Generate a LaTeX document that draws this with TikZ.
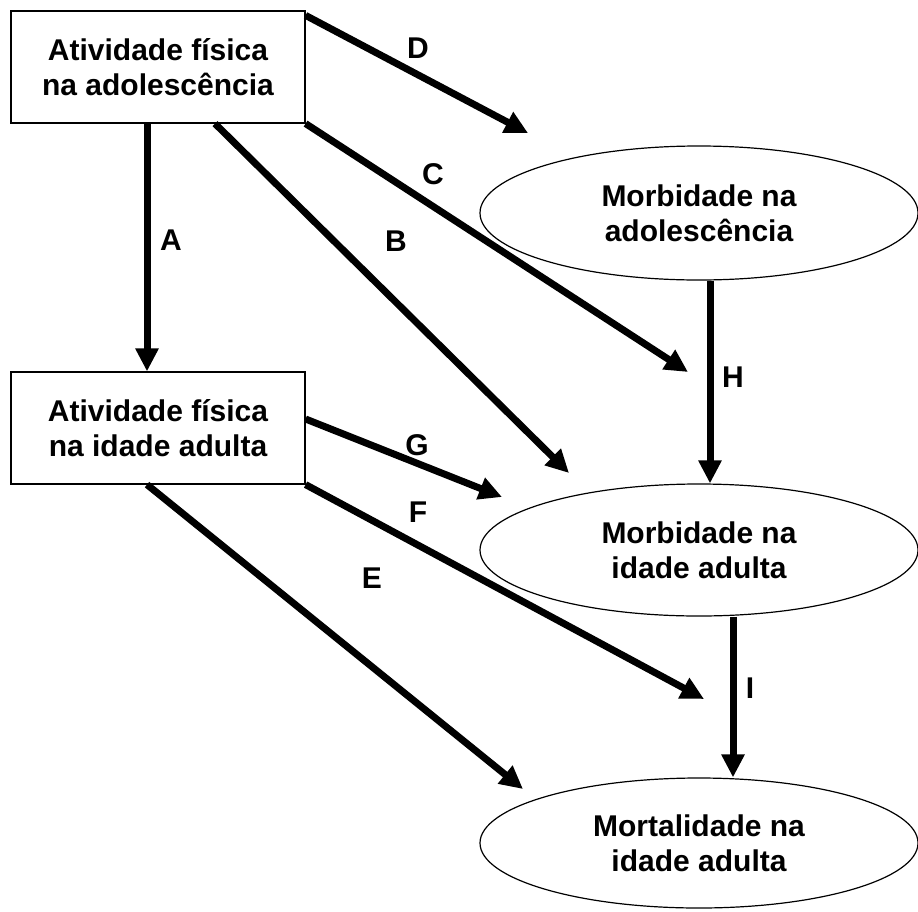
\documentclass[tikz,border=0pt]{standalone}
\usepackage{fontspec}
\setmainfont{Liberation Sans}
\usetikzlibrary{arrows.meta,shapes.geometric}

\begin{document}
\begin{tikzpicture}[x=1pt, y=-1pt,
		font=\fontsize{30}{35}\selectfont\bfseries,
		caixa/.style={draw, line width=1.2pt, minimum width=294pt, minimum height=112pt, align=center, inner sep=0pt},
		elipse/.style={draw, ellipse, line width=1.2pt, minimum width=438pt, minimum height=132pt, align=center, inner sep=0pt},
		seta/.style={line width=7pt, -{Triangle[length=23pt, width=22pt]}}]
		\useasboundingbox (0,0) rectangle (918,911);
	
		\node[caixa] (adol) at (158,67) {Atividade física\\na adolescência};
		\node[caixa] (adul) at (158,428) {Atividade física\\na idade adulta};
		\node[elipse, minimum height=134pt] (morbA) at (699,213) {Morbidade na\\adolescência};
		\node[elipse] (morbB) at (699,550) {Morbidade na\\idade adulta};
		\node[elipse, minimum height=130pt] (mort) at (699,843) {Mortalidade na\\idade adulta};
	
		% pontas soltas das setas
		\coordinate (fimB) at (569,473);
		\coordinate (fimC) at (688,372);
		\coordinate (fimD) at (528,133);
		\coordinate (fimG) at (502,497);
		\coordinate (fimF) at (704,699);
		\coordinate (fimE) at (523,789);
	
		\draw[seta] ([xshift=-11pt]adol.south) -- ([xshift=-11pt]adul.north);
		\draw[seta] ([xshift=57pt]adol.south) -- (fimB);
		\draw[seta] (adol.south east) -- (fimC);
		\draw[seta] ([yshift=-5pt]adol.north east) -- (fimD);
		\draw[seta] ([xshift=11pt]morbA.south) -- ([xshift=11pt]morbB.north);
		\draw[seta] ([yshift=9pt]adul.east) -- (fimG);
		\draw[seta] (adul.south east) -- (fimF);
		\draw[seta] ([xshift=-11pt]adul.south) -- (fimE);
		\draw[seta] ([xshift=34pt]morbB.south) -- ([xshift=34pt]mort.north);
	
		\foreach \l/\x/\y in {A/171/240, B/396/241, C/433/174, D/418/48, E/372/578, F/418/512, G/417/445, H/733/377, I/750/688} {
			\node (rot\l) at (\x,\y) {\l};
		}
	\end{tikzpicture}
\end{document}
